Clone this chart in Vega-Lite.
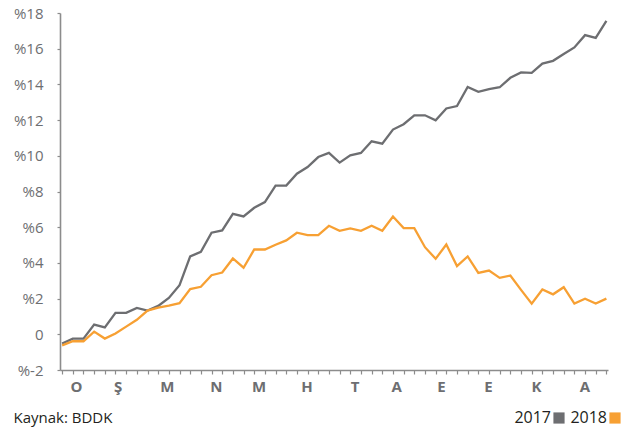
{
  "$schema": "https://vega.github.io/schema/vega-lite/v6.json",
  "width": 548,
  "height": 357,
  "autosize": {"type": "none"},
  "padding": {"left": 60, "top": 13, "right": 21, "bottom": 61},
  "background": "white",
  "config": {"font": "Open Sans", "view": {"stroke": null}},
  "title": {"text": "Kaynak: BDDK", "orient": "bottom", "anchor": "start", "frame": "bounds", "fontSize": 15, "fontWeight": "normal", "color": "#231f20", "offset": -15},
  "data": {"values": [
    {"w":0,"year":"2017","v":-0.52},{"w":1,"year":"2017","v":-0.24},{"w":2,"year":"2017","v":-0.24},{"w":3,"year":"2017","v":0.54},{"w":4,"year":"2017","v":0.39},{"w":5,"year":"2017","v":1.2},{"w":6,"year":"2017","v":1.2},{"w":7,"year":"2017","v":1.48},{"w":8,"year":"2017","v":1.33},{"w":9,"year":"2017","v":1.59},{"w":10,"year":"2017","v":2.04},{"w":11,"year":"2017","v":2.75},{"w":12,"year":"2017","v":4.36},{"w":13,"year":"2017","v":4.62},{"w":14,"year":"2017","v":5.69},{"w":15,"year":"2017","v":5.82},{"w":16,"year":"2017","v":6.75},{"w":17,"year":"2017","v":6.6},{"w":18,"year":"2017","v":7.09},{"w":19,"year":"2017","v":7.41},{"w":20,"year":"2017","v":8.33},{"w":21,"year":"2017","v":8.33},{"w":22,"year":"2017","v":9.0},{"w":23,"year":"2017","v":9.37},{"w":24,"year":"2017","v":9.93},{"w":25,"year":"2017","v":10.16},{"w":26,"year":"2017","v":9.62},{"w":27,"year":"2017","v":10.03},{"w":28,"year":"2017","v":10.16},{"w":29,"year":"2017","v":10.81},{"w":30,"year":"2017","v":10.68},{"w":31,"year":"2017","v":11.47},{"w":32,"year":"2017","v":11.77},{"w":33,"year":"2017","v":12.27},{"w":34,"year":"2017","v":12.27},{"w":35,"year":"2017","v":11.99},{"w":36,"year":"2017","v":12.65},{"w":37,"year":"2017","v":12.79},{"w":38,"year":"2017","v":13.86},{"w":39,"year":"2017","v":13.58},{"w":40,"year":"2017","v":13.73},{"w":41,"year":"2017","v":13.84},{"w":42,"year":"2017","v":14.37},{"w":43,"year":"2017","v":14.67},{"w":44,"year":"2017","v":14.65},{"w":45,"year":"2017","v":15.17},{"w":46,"year":"2017","v":15.32},{"w":47,"year":"2017","v":15.7},{"w":48,"year":"2017","v":16.07},{"w":49,"year":"2017","v":16.76},{"w":50,"year":"2017","v":16.61},{"w":51,"year":"2017","v":17.56},
    {"w":0,"year":"2018","v":-0.62},{"w":1,"year":"2018","v":-0.39},{"w":2,"year":"2018","v":-0.39},{"w":3,"year":"2018","v":0.15},{"w":4,"year":"2018","v":-0.24},{"w":5,"year":"2018","v":0.04},{"w":6,"year":"2018","v":0.43},{"w":7,"year":"2018","v":0.81},{"w":8,"year":"2018","v":1.33},{"w":9,"year":"2018","v":1.5},{"w":10,"year":"2018","v":1.61},{"w":11,"year":"2018","v":1.74},{"w":12,"year":"2018","v":2.53},{"w":13,"year":"2018","v":2.66},{"w":14,"year":"2018","v":3.31},{"w":15,"year":"2018","v":3.46},{"w":16,"year":"2018","v":4.25},{"w":17,"year":"2018","v":3.73},{"w":18,"year":"2018","v":4.75},{"w":19,"year":"2018","v":4.75},{"w":20,"year":"2018","v":5.02},{"w":21,"year":"2018","v":5.26},{"w":22,"year":"2018","v":5.69},{"w":23,"year":"2018","v":5.56},{"w":24,"year":"2018","v":5.56},{"w":25,"year":"2018","v":6.08},{"w":26,"year":"2018","v":5.8},{"w":27,"year":"2018","v":5.93},{"w":28,"year":"2018","v":5.8},{"w":29,"year":"2018","v":6.08},{"w":30,"year":"2018","v":5.8},{"w":31,"year":"2018","v":6.6},{"w":32,"year":"2018","v":5.95},{"w":33,"year":"2018","v":5.95},{"w":34,"year":"2018","v":4.88},{"w":35,"year":"2018","v":4.23},{"w":36,"year":"2018","v":5.03},{"w":37,"year":"2018","v":3.82},{"w":38,"year":"2018","v":4.36},{"w":39,"year":"2018","v":3.44},{"w":40,"year":"2018","v":3.57},{"w":41,"year":"2018","v":3.16},{"w":42,"year":"2018","v":3.29},{"w":43,"year":"2018","v":2.49},{"w":44,"year":"2018","v":1.72},{"w":45,"year":"2018","v":2.51},{"w":46,"year":"2018","v":2.24},{"w":47,"year":"2018","v":2.64},{"w":48,"year":"2018","v":1.72},{"w":49,"year":"2018","v":1.99},{"w":50,"year":"2018","v":1.72},{"w":51,"year":"2018","v":2.0}
  ]},
  "mark": {"type": "line", "strokeWidth": 2.3},
  "encoding": {
    "x": {
      "field": "w", "type": "quantitative",
      "scale": {"domain": [-0.2, 51.15], "nice": false, "zero": false},
      "axis": {
        "title": null, "grid": false,
        "values": [0,1,2,3,4,5,6,7,8,9,10,11,12,13,14,15,16,17,18,19,20,21,22,23,24,25,26,27,28,29,30,31,32,33,34,35,36,37,38,39,40,41,42,43,44,45,46,47,48,49,50,51,1.3,5.2,9.8,14.4,18.4,22.9,27.4,31.3,35.5,39.9,44.4,48.95],
        "labelExpr": "indexof([1.3,5.2,9.8,14.4,18.4,22.9,27.4,31.3,35.5,39.9,44.4,48.95], datum.value) >= 0 ? ['O','Ş','M','N','M','H','T','A','E','E','K','A'][indexof([1.3,5.2,9.8,14.4,18.4,22.9,27.4,31.3,35.5,39.9,44.4,48.95], datum.value)] : ''",
        "tickOpacity": {"condition": {"test": "datum.value % 1 !== 0", "value": 0}, "value": 1},
        "labelOverlap": false, "labelBound": false, "labelFlush": false,
        "domainColor": "#8c8c8c", "domainWidth": 1.6,
        "tickColor": "#8c8c8c", "tickWidth": 1.2, "tickSize": 4,
        "labelColor": "#6d6e71", "labelFontSize": 15, "labelFontWeight": "bold", "labelPadding": 5
      }
    },
    "y": {
      "field": "v", "type": "quantitative",
      "scale": {"domain": [-2, 18], "nice": false, "zero": false},
      "axis": {
        "title": null, "grid": false,
        "values": [-2,0,2,4,6,8,10,12,14,16,18],
        "labelExpr": "datum.value == 0 ? '0' : '%' + datum.value",
        "domainColor": "#8c8c8c", "domainWidth": 1.6,
        "tickColor": "#8c8c8c", "tickWidth": 1.2, "tickSize": 3,
        "labelColor": "#6d6e71", "labelFontSize": 15, "labelPadding": 14
      }
    },
    "color": {
      "field": "year", "type": "nominal",
      "scale": {"domain": ["2017", "2018"], "range": ["#6d6e71", "#f7a033"]},
      "legend": {
        "orient": "none", "legendX": 491, "legendY": 397, "direction": "horizontal",
        "title": null, "symbolType": "square", "symbolSize": 125,
        "labelFontSize": 16, "labelColor": "#231f20",
        "labelAlign": "right", "labelOffset": -16, "columnPadding": 5,
        "encode": {"symbols": {"update": {"fill": {"scale": "color", "field": "value"}, "strokeWidth": {"value": 0}, "opacity": {"value": 1}}}}
      }
    }
  }
}
